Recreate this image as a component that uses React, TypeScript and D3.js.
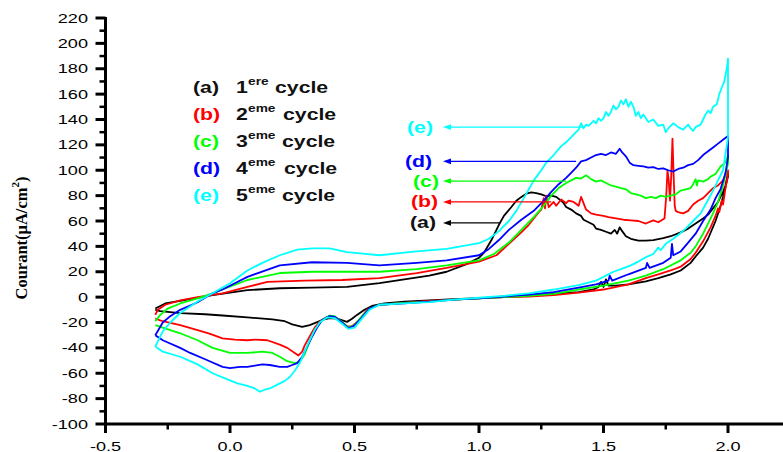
import React from "react";
import * as d3 from "d3";

type Pt = [number, number];

// ---------- axis ticks ----------
const xMajorTicks = [-0.5, 0.0, 0.5, 1.0, 1.5, 2.0];
const xMinorTicks = [-0.25, 0.25, 0.75, 1.25, 1.75];
const xTickLabels = ["-0.5", "0.0", "0.5", "1.0", "1.5", "2.0"];
const yMajorTicks = [-100, -80, -60, -40, -20, 0, 20, 40, 60, 80, 100, 120, 140, 160, 180, 200, 220];
const yMinorTicks = [-90, -70, -50, -30, -10, 10, 30, 50, 70, 90, 110, 130, 150, 170, 190, 210];

// ---------- series meta ----------
const seriesTags = ["(a)", "(b)", "(c)", "(d)", "(e)"];
const cycleNumbers = ["1", "2", "3", "4", "5"];
const cycleSuffix = ["ere", "eme", "eme", "eme", "eme"];
const seriesColors = ["#000000", "#ff0000", "#00ff00", "#0000ff", "#00ffff"];
// annotation arrows (label ← curve): current level, potential at curve end
const arrowCurrent = [58.5, 75, 91.5, 107, 134];
const arrowEndPotential = [1.085, 1.29, 1.35, 1.39, 1.42];

// ---------- cycle (a) ----------
const cycleAForward: Pt[] = [
  [-0.3, -10], [-0.28, -11], [-0.2, -12.6], [-0.1, -13.5], [-0.03, -14.5], [0.07, -16], [0.17, -17.5],
  [0.22, -19], [0.25, -21.5], [0.29, -23.5], [0.32, -22], [0.34, -20.5], [0.37, -18], [0.4, -16.5],
  [0.43, -17], [0.47, -19.5], [0.49, -17], [0.51, -14], [0.54, -10], [0.57, -7], [0.62, -5], [0.7, -3.5],
  [0.8, -2.5], [0.9, -1.5], [1.0, -0.8], [1.1, 0], [1.2, 1], [1.3, 2.5], [1.4, 4], [1.46, 6], [1.48, 8],
  [1.49, 12], [1.5, 8], [1.51, 14], [1.52, 9], [1.55, 9], [1.6, 10], [1.67, 12.5], [1.72, 15], [1.77, 18],
  [1.81, 21], [1.85, 27], [1.87, 32], [1.9, 39], [1.92, 46], [1.95, 60], [1.97, 72], [1.98, 79], [2.0, 95],
];
const cycleAReverse: Pt[] = [
  [2.0, 98], [1.99, 88], [1.98, 83], [1.96, 75], [1.94, 70], [1.92, 65], [1.9, 62], [1.87, 58], [1.84, 54],
  [1.81, 51], [1.77, 48], [1.74, 46.5], [1.7, 45], [1.67, 44.5], [1.64, 44.5], [1.61, 46], [1.59, 48],
  [1.575, 52], [1.565, 55], [1.555, 50], [1.545, 53], [1.53, 50], [1.51, 51.5], [1.49, 53], [1.47, 54],
  [1.46, 57], [1.44, 59], [1.42, 61], [1.41, 64], [1.39, 66], [1.37, 69], [1.35, 71], [1.34, 74], [1.33, 76],
  [1.31, 79], [1.29, 80], [1.27, 79.5], [1.25, 81], [1.23, 82], [1.21, 82.5], [1.19, 81.5], [1.17, 79],
  [1.15, 76], [1.13, 71], [1.1, 64], [1.08, 57], [1.05, 45], [1.02, 35], [1.0, 31], [0.95, 26], [0.87, 20],
  [0.8, 17], [0.7, 14], [0.6, 11], [0.47, 8], [0.33, 7.5], [0.2, 7], [0.07, 5.5], [-0.07, 1.6], [-0.2, -3],
  [-0.26, -5], [-0.3, -9],
];

// ---------- cycle (b) ----------
const cycleBForward: Pt[] = [
  [-0.3, -17], [-0.27, -19], [-0.2, -22], [-0.13, -26], [-0.08, -29], [-0.03, -32.5], [0.02, -33.5],
  [0.07, -34], [0.1, -33.5], [0.15, -34], [0.2, -37.5], [0.23, -40], [0.26, -44], [0.275, -46], [0.29, -43],
  [0.3, -38], [0.32, -31], [0.34, -24], [0.36, -19.5], [0.39, -15.5], [0.42, -15.5], [0.445, -19],
  [0.47, -23], [0.49, -23], [0.52, -18], [0.55, -10], [0.6, -6], [0.7, -4.5], [0.8, -3], [0.9, -2],
  [1.0, -1], [1.1, 0], [1.2, 0.5], [1.3, 1.5], [1.4, 3.5], [1.5, 6], [1.6, 10], [1.67, 15], [1.72, 18],
  [1.77, 21], [1.81, 24], [1.85, 30], [1.87, 35], [1.9, 44], [1.93, 55], [1.95, 64], [1.96, 70],
  [1.965, 67], [1.975, 76], [1.98, 73], [1.99, 86], [2.0, 97],
];
const cycleBReverse: Pt[] = [
  [2.0, 100], [1.98, 92], [1.96, 88], [1.94, 86], [1.92, 82], [1.9, 78], [1.88, 76], [1.86, 73],
  [1.84, 68], [1.82, 66], [1.8, 67], [1.79, 68], [1.786, 72], [1.781, 100], [1.777, 125], [1.772, 95],
  [1.767, 76], [1.762, 92], [1.757, 100], [1.752, 80], [1.745, 62], [1.72, 59], [1.7, 60.5], [1.67, 58],
  [1.64, 60], [1.61, 60.5], [1.58, 61], [1.55, 62], [1.52, 63], [1.5, 64], [1.47, 65], [1.45, 66],
  [1.43, 69], [1.41, 79], [1.4, 72], [1.38, 75], [1.36, 76], [1.35, 74], [1.33, 77], [1.31, 72],
  [1.3, 75], [1.28, 71], [1.27, 80], [1.265, 70], [1.26, 78], [1.25, 69], [1.24, 67], [1.22, 62],
  [1.2, 57], [1.17, 51], [1.12, 42], [1.07, 33], [1.0, 28], [0.87, 23], [0.75, 19], [0.6, 15],
  [0.45, 13.5], [0.3, 13], [0.15, 12], [0.07, 8], [-0.03, 3], [-0.13, 0], [-0.2, -2.5], [-0.26, -6],
  [-0.29, -10], [-0.3, -14],
];

// ---------- cycle (c) ----------
const cycleCForward: Pt[] = [
  [-0.3, -22], [-0.27, -24], [-0.2, -28.5], [-0.13, -34], [-0.07, -40], [0.0, -44], [0.07, -44],
  [0.13, -43], [0.17, -44], [0.2, -47], [0.23, -50.5], [0.26, -52], [0.28, -51], [0.3, -45], [0.32, -35],
  [0.34, -26], [0.37, -18], [0.4, -14.5], [0.42, -15], [0.45, -19.5], [0.475, -24], [0.5, -22],
  [0.53, -15], [0.56, -9], [0.6, -6], [0.7, -4.5], [0.8, -3.5], [0.9, -2], [1.0, -1], [1.1, 0], [1.2, 1],
  [1.3, 2.5], [1.4, 6], [1.5, 9], [1.6, 13], [1.67, 17], [1.74, 22], [1.81, 29], [1.85, 35], [1.87, 40],
  [1.9, 50], [1.92, 58], [1.94, 66], [1.96, 75], [1.98, 88], [2.0, 105],
];
const cycleCReverse: Pt[] = [
  [2.0, 112], [1.99, 106], [1.97, 103], [1.95, 97], [1.93, 95], [1.92, 93], [1.9, 91], [1.88, 92],
  [1.875, 88], [1.87, 93], [1.86, 89], [1.85, 86], [1.83, 85], [1.81, 84], [1.79, 81], [1.77, 80],
  [1.75, 79], [1.73, 80], [1.71, 78], [1.69, 79], [1.67, 78], [1.65, 80], [1.63, 81], [1.61, 82],
  [1.59, 85], [1.57, 86], [1.55, 87], [1.53, 88], [1.51, 90], [1.49, 92], [1.47, 91], [1.45, 93],
  [1.43, 96], [1.41, 93.5], [1.39, 94], [1.37, 92], [1.35, 90], [1.32, 86], [1.29, 80], [1.26, 72],
  [1.22, 63], [1.17, 53], [1.12, 43], [1.06, 34], [1.0, 29], [0.87, 25], [0.75, 22], [0.6, 20],
  [0.45, 20], [0.33, 20], [0.2, 19], [0.07, 13.5], [-0.03, 6], [-0.07, 3], [-0.13, -1], [-0.2, -5],
  [-0.25, -9], [-0.28, -14], [-0.3, -19],
];

// ---------- cycle (d) ----------
const cycleDForward: Pt[] = [
  [-0.3, -30], [-0.27, -34], [-0.2, -40], [-0.16, -44], [-0.1, -49], [-0.03, -55], [0.0, -56],
  [0.04, -55], [0.07, -55], [0.1, -54], [0.13, -53], [0.16, -53.5], [0.2, -55], [0.23, -55],
  [0.25, -53.5], [0.27, -52], [0.29, -47], [0.31, -39], [0.33, -31], [0.35, -24], [0.37, -18],
  [0.4, -15], [0.42, -15.5], [0.45, -20], [0.475, -24.5], [0.5, -22.5], [0.53, -16], [0.56, -9],
  [0.6, -6], [0.7, -5], [0.8, -3.5], [0.9, -2], [1.0, -1], [1.1, 0.5], [1.2, 2], [1.3, 4], [1.4, 7.5],
  [1.47, 10], [1.52, 13], [1.525, 17], [1.535, 13], [1.6, 18], [1.67, 23], [1.675, 27], [1.685, 23],
  [1.74, 27], [1.77, 31], [1.775, 42], [1.78, 33], [1.81, 36], [1.84, 43], [1.87, 50], [1.9, 60],
  [1.93, 69], [1.95, 78], [1.97, 85], [1.99, 98], [2.0, 110],
];
const cycleDReverse: Pt[] = [
  [2.0, 127], [1.98, 124], [1.96, 121], [1.94, 118], [1.92, 115], [1.9, 112], [1.88, 108], [1.86, 105],
  [1.84, 104], [1.82, 102], [1.8, 101], [1.78, 99], [1.76, 100], [1.74, 101.5], [1.72, 101],
  [1.7, 102.5], [1.68, 102], [1.66, 103], [1.64, 103.5], [1.62, 104], [1.605, 106], [1.59, 111],
  [1.575, 114], [1.565, 117], [1.55, 113], [1.53, 114], [1.51, 112], [1.49, 113], [1.47, 112],
  [1.45, 110], [1.43, 108], [1.41, 107], [1.39, 102], [1.37, 98], [1.35, 94], [1.32, 89], [1.29, 83],
  [1.26, 76], [1.22, 68], [1.17, 61], [1.12, 53], [1.08, 45], [1.04, 38], [1.0, 33], [0.87, 29],
  [0.75, 27], [0.6, 25], [0.47, 27], [0.33, 27.5], [0.2, 25], [0.07, 16], [-0.03, 6], [-0.07, 3],
  [-0.13, -4], [-0.2, -10], [-0.24, -15], [-0.27, -20], [-0.3, -30],
];

// ---------- cycle (e) ----------
const cycleEForward: Pt[] = [
  [-0.3, -39], [-0.27, -43], [-0.2, -47], [-0.13, -53], [-0.07, -60], [-0.02, -64], [0.03, -68],
  [0.07, -70], [0.1, -72], [0.12, -74.5], [0.14, -73], [0.16, -72], [0.2, -68], [0.22, -66], [0.24, -63],
  [0.26, -58], [0.28, -52], [0.3, -43], [0.32, -34], [0.34, -26], [0.36, -20], [0.39, -16], [0.42, -16.5],
  [0.45, -21], [0.475, -25], [0.5, -24], [0.53, -17], [0.56, -10], [0.6, -6], [0.7, -5], [0.8, -4],
  [0.9, -2], [1.0, -0.5], [1.1, 1], [1.2, 3], [1.3, 6], [1.4, 9.5], [1.47, 13], [1.54, 20], [1.57, 22],
  [1.61, 25], [1.64, 28], [1.67, 31.5], [1.7, 34], [1.72, 39], [1.73, 37], [1.75, 42], [1.78, 46],
  [1.8, 49], [1.83, 54], [1.86, 60], [1.89, 66], [1.91, 73], [1.94, 84], [1.96, 92], [1.98, 100],
  [2.0, 126],
];
const cycleEReverse: Pt[] = [
  [2.0, 188], [1.995, 180], [1.985, 170], [1.975, 165], [1.965, 160], [1.955, 152], [1.94, 150],
  [1.93, 145], [1.92, 147], [1.91, 144], [1.9, 140], [1.89, 136], [1.87, 134], [1.86, 131], [1.85, 133],
  [1.84, 136], [1.82, 132], [1.8, 134], [1.78, 137], [1.76, 133], [1.75, 130], [1.74, 136], [1.72, 135],
  [1.7, 140], [1.68, 138], [1.66, 144], [1.65, 141], [1.64, 146], [1.63, 143], [1.62, 150], [1.61, 154],
  [1.6, 150], [1.59, 156], [1.58, 152], [1.57, 155], [1.56, 150], [1.55, 148], [1.54, 151], [1.53, 146],
  [1.52, 143], [1.51, 146], [1.5, 141], [1.49, 139], [1.48, 141], [1.47, 137], [1.46, 139], [1.44, 135],
  [1.43, 136], [1.42, 133], [1.41, 137], [1.4, 132], [1.38, 128], [1.35, 122], [1.33, 119], [1.3, 112],
  [1.27, 106], [1.25, 100], [1.22, 92], [1.2, 85], [1.18, 78], [1.15, 68], [1.12, 60], [1.08, 52],
  [1.04, 46], [1.0, 42.5], [0.87, 38], [0.75, 36], [0.6, 33], [0.47, 35.5], [0.4, 38.5], [0.33, 38.5],
  [0.27, 37.5], [0.2, 33], [0.13, 27], [0.07, 21], [0.0, 11], [-0.07, 3], [-0.13, -3.5], [-0.2, -12.5],
  [-0.24, -20], [-0.27, -27], [-0.3, -39],
];

const forwardScans = [cycleAForward, cycleBForward, cycleCForward, cycleDForward, cycleEForward];
const reverseScans = [cycleAReverse, cycleBReverse, cycleCReverse, cycleDReverse, cycleEReverse];

// ---------- layout ----------
const W = 783;
const H = 452;
const plotLeft = 105.5;
const plotRightEdge = 783;
const plotTop = 18;
const plotBottom = 424;

const x = d3.scaleLinear().domain([-0.5, 2.0]).range([plotLeft, 728]);
const y = d3.scaleLinear().domain([-100, 220]).range([plotBottom, plotTop]);

const line = d3
  .line<Pt>()
  .x((d) => x(d[0]))
  .y((d) => y(d[1]))
  .curve(d3.curveLinear);

const SANS = "Arial, 'Liberation Sans', Helvetica, sans-serif";
const SERIF = "'Times New Roman', 'Liberation Serif', serif";

function WideText(props: {
  x: number;
  y: number;
  sx: number;
  size: number;
  anchor?: string;
  bold?: boolean;
  fill?: string;
  children: React.ReactNode;
}) {
  const { sx, size, anchor = "start", bold = false, fill = "#000" } = props;
  return (
    <text
      transform={`translate(${props.x},${props.y}) scale(${sx},1)`}
      textAnchor={anchor}
      fontSize={size}
      fontFamily={SANS}
      fontWeight={bold ? "bold" : "normal"}
      fill={fill}
    >
      {props.children}
    </text>
  );
}

export default function App() {
  const legendBaselines = [93, 120, 147, 174, 201];
  const legendCycleX = [275, 283, 282, 284, 282];
  const arrowLabelX = [410, 411, 413, 405, 407];

  return (
    <svg
      width={W}
      height={H}
      viewBox={`0 0 ${W} ${H}`}
      style={{ position: "absolute", left: 0, top: 0, display: "block", background: "#fff" }}
    >
      <rect x={0} y={0} width={W} height={H} fill="#fff" />

      {/* data */}
      <g fill="none" strokeWidth={1.8} strokeLinejoin="round">
        {forwardScans.map((fw, i) => (
          <path key={i} d={line([...fw, ...reverseScans[i]]) || ""} stroke={seriesColors[i]} />
        ))}
      </g>

      {/* y axis */}
      <g stroke="#000">
        <line x1={plotLeft} x2={plotLeft} y1={plotTop - 1} y2={plotBottom + 1.5} strokeWidth={3} />
        {yMajorTicks.map((t) => (
          <line key={"ym" + t} x1={plotLeft - 10} x2={plotLeft} y1={y(t)} y2={y(t)} strokeWidth={3} />
        ))}
        {yMinorTicks.map((t) => (
          <line key={"yn" + t} x1={plotLeft - 6} x2={plotLeft} y1={y(t)} y2={y(t)} strokeWidth={2.5} />
        ))}
      </g>
      {yMajorTicks.map((t) => (
        <WideText key={"yl" + t} x={88} y={y(t) + 4.5} sx={1.45} size={12.5} anchor="end">
          {String(t)}
        </WideText>
      ))}

      {/* x axis */}
      <g stroke="#000">
        <line x1={plotLeft - 1.5} x2={plotRightEdge} y1={plotBottom} y2={plotBottom} strokeWidth={3} />
        {xMajorTicks.map((t) => (
          <line key={"xm" + t} x1={x(t)} x2={x(t)} y1={plotBottom} y2={plotBottom + 9} strokeWidth={3} />
        ))}
        {xMinorTicks.map((t) => (
          <line key={"xn" + t} x1={x(t)} x2={x(t)} y1={plotBottom} y2={plotBottom + 5.5} strokeWidth={2.5} />
        ))}
      </g>
      {xMajorTicks.map((t, i) => (
        <WideText key={"xl" + t} x={x(t)} y={451} sx={1.45} size={12.5} anchor="middle">
          {xTickLabels[i]}
        </WideText>
      ))}

      {/* y axis title */}
      <text
        transform={`translate(27,238) rotate(-90)`}
        textAnchor="middle"
        fontFamily={SERIF}
        fontWeight="bold"
        fontSize={16.5}
        fill="#000"
      >
        Courant(μA/cm
        <tspan fontSize={11} dy={-8}>
          2
        </tspan>
        <tspan dy={8}>)</tspan>
      </text>

      {/* legend */}
      {seriesTags.map((tag, i) => (
        <g key={"lg" + i}>
          <WideText x={193} y={legendBaselines[i]} sx={1.25} size={17} bold fill={seriesColors[i] === "#000000" ? "#111" : seriesColors[i]}>
            {tag}
          </WideText>
          <WideText x={236} y={legendBaselines[i]} sx={1.25} size={17} bold fill="#111">
            {cycleNumbers[i]}
          </WideText>
          <WideText x={248} y={legendBaselines[i] - 8.5} sx={1.25} size={11} bold fill="#111">
            {cycleSuffix[i]}
          </WideText>
          <WideText x={legendCycleX[i]} y={legendBaselines[i]} sx={1.25} size={17} bold fill="#111">
            cycle
          </WideText>
        </g>
      ))}

      {/* arrow annotations */}
      {seriesTags.map((tag, i) => {
        const yy = y(arrowCurrent[i]);
        const x0 = 443;
        const x1 = x(arrowEndPotential[i]);
        return (
          <g key={"ar" + i}>
            <line x1={x0 + 4} x2={x1} y1={yy} y2={yy} stroke={seriesColors[i]} strokeWidth={1.3} />
            <path d={`M${x0},${yy} L${x0 + 8},${yy - 2.8} L${x0 + 8},${yy + 2.8} Z`} fill={seriesColors[i]} />
            <WideText x={arrowLabelX[i]} y={yy + 5.5} sx={1.25} size={17} bold fill={seriesColors[i] === "#000000" ? "#111" : seriesColors[i]}>
              {tag}
            </WideText>
          </g>
        );
      })}
    </svg>
  );
}
